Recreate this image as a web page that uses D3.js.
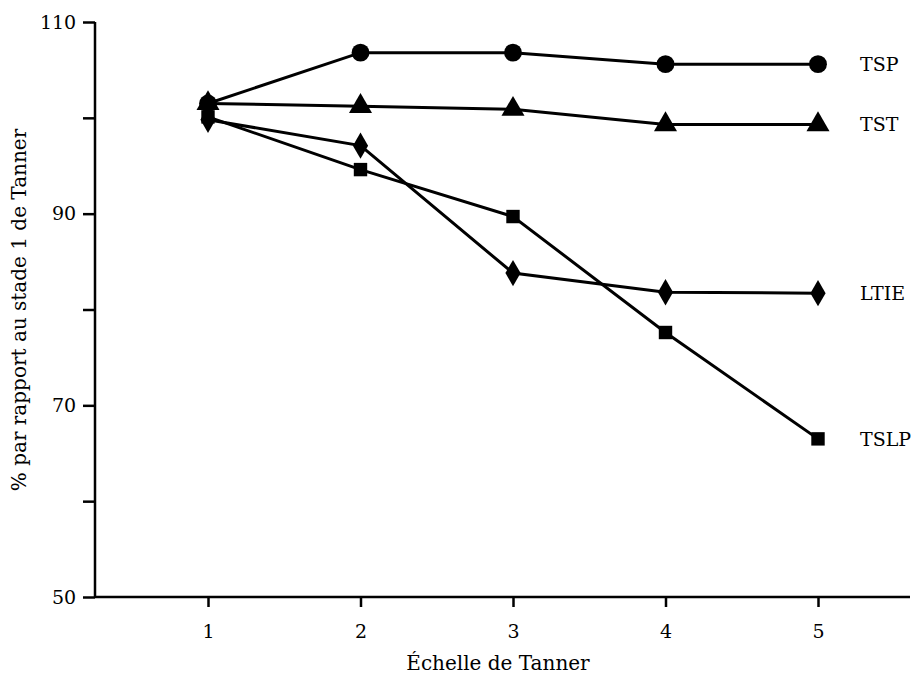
<!DOCTYPE html>
<html><head><meta charset="utf-8">
<script src="https://cdn.jsdelivr.net/npm/d3@7"></script>
<style>body{margin:0;background:#fff}</style>
</head><body>
<script>
const stages = [1, 2, 3, 4, 5];
const yTicks = [50, 70, 90, 110];
const tsp = [101.5, 106.8, 106.8, 105.6, 105.6];
const tst = [101.5, 101.2, 100.9, 99.3, 99.3];
const tslp = [100.1, 94.6, 89.7, 77.6, 66.5];
const ltie = [99.8, 97.1, 83.8, 81.8, 81.7];
const seriesNames = ['TSP', 'TST', 'LTIE', 'TSLP'];
const seriesData = [tsp, tst, ltie, tslp];
const seriesSymbols = [d3.symbolCircle, d3.symbolTriangle, d3.symbolDiamond, d3.symbolSquare];
const symbolSizes = [250, 230, 200, 180];

const W = 911, H = 683;
const FONT = '"DejaVu Serif", serif';
const svg = d3.select('body').append('svg').attr('width', W).attr('height', H)
  .style('font-family', FONT);

const x = d3.scaleLinear().domain([1, 5]).range([208, 818]);
const y = d3.scaleLinear().domain([50, 110]).range([597, 22]);

svg.append('line').attr('x1', 95).attr('x2', 910).attr('y1', 597).attr('y2', 597)
  .attr('stroke', '#000').attr('stroke-width', 2.5);
svg.append('line').attr('x1', 95).attr('x2', 95).attr('y1', 22).attr('y2', 597)
  .attr('stroke', '#000').attr('stroke-width', 2.5);

const xa = svg.append('g').attr('transform', 'translate(0,597)')
  .call(d3.axisBottom(x).tickValues(stages).tickSize(10).tickSizeOuter(0).tickFormat(d3.format('d')));
xa.select('.domain').remove();
xa.selectAll('line').attr('stroke-width', 2.5);
xa.selectAll('text').attr('font-size', 19).attr('dy', '1.45em').attr('font-family', FONT);

const ya = svg.append('g').attr('transform', 'translate(95,0)')
  .call(d3.axisLeft(y).tickValues(d3.range(50, 111, 10)).tickSize(12).tickFormat(d => yTicks.includes(d) ? d : ''));
ya.select('.domain').remove();
ya.selectAll('line').attr('stroke-width', 2.5);
ya.selectAll('text').attr('font-size', 19).attr('dx', '-0.2em').attr('font-family', FONT);

const line = d3.line().x((d, i) => x(stages[i])).y(d => y(d));
seriesData.forEach((vals, k) => {
  svg.append('path').attr('d', line(vals)).attr('fill', 'none')
    .attr('stroke', '#000').attr('stroke-width', 3);
  svg.selectAll(null).data(vals).enter().append('path')
    .attr('d', d3.symbol().type(seriesSymbols[k]).size(symbolSizes[k]))
    .attr('transform', (d, i) => `translate(${x(stages[i])},${y(d)})`)
    .attr('fill', '#000');
  svg.append('text').attr('x', 860).attr('y', y(vals[4])).attr('dy', '0.35em')
    .attr('font-size', 19).text(seriesNames[k]);
});

svg.append('text').attr('x', 498).attr('y', 670).attr('text-anchor', 'middle')
  .attr('font-size', 20).text('Échelle de Tanner');
svg.append('text').attr('transform', 'translate(26,310) rotate(-90)').attr('text-anchor', 'middle')
  .attr('font-size', 20).text('% par rapport au stade 1 de Tanner');
</script>
</body></html>
